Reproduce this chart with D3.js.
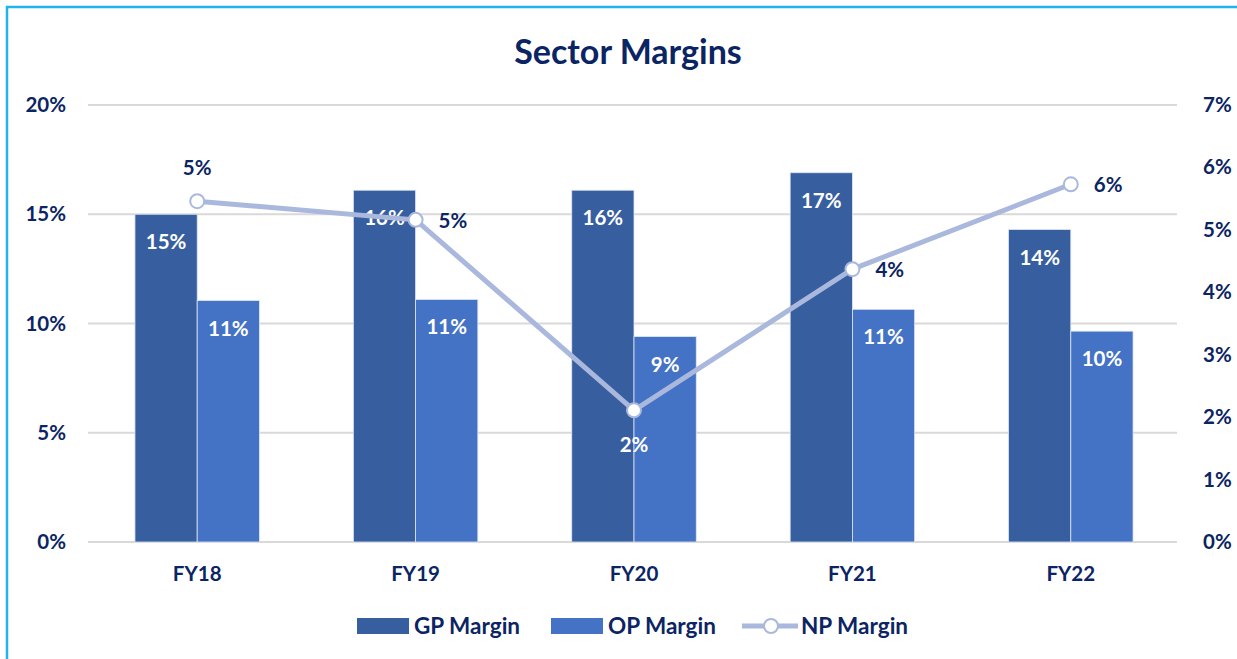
<!DOCTYPE html>
<html>
<head>
<meta charset="utf-8">
<script src="https://cdn.jsdelivr.net/npm/d3@7"></script>
<style>
  body { margin: 0; background: #fff; }
  svg { display: block; font-family: Lato, "Open Sans", sans-serif; }
</style>
</head>
<body>
<svg></svg>
<script>
// chart data
const years = ['FY18', 'FY19', 'FY20', 'FY21', 'FY22'];
const gpMargin = [15.0, 16.1, 16.1, 16.9, 14.3];
const opMargin = [11.05, 11.1, 9.4, 10.65, 9.65];
const npMargin = [5.46, 5.16, 2.11, 4.37, 5.73];
const leftTicks = [0, 5, 10, 15, 20];
const rightTicks = [0, 1, 2, 3, 4, 5, 6, 7];
// where the NP label sits relative to its point
const npLabelPos = ['top', 'right', 'bottom', 'right', 'right'];

const width = 1237,
      height = 659;

const navy = '#0b2463',
      gpColor = '#375fa0',
      opColor = '#4472c4',
      npColor = '#a9b8dc';

const svg = d3.select('svg')
              .attr('width', width)
              .attr('height', height);

// light blue frame, only top and left edges show
svg.append('rect')
   .attr('x', 7).attr('y', 7)
   .attr('width', width + 20).attr('height', height + 20)
   .attr('fill', 'none')
   .attr('stroke', '#22b3ef')
   .attr('stroke-width', 2.5);

svg.append('text')
   .attr('x', 628).attr('y', 64)
   .attr('text-anchor', 'middle')
   .attr('font-size', '34px')
   .attr('font-weight', 'bold')
   .attr('fill', navy)
   .text('Sector Margins');

const x = d3.scaleBand()
            .domain(years)
            .range([88, 1180])
            .paddingInner(0.43)
            .paddingOuter(0.215);

const xSub = d3.scaleBand()
               .domain(['gp', 'op'])
               .range([0, x.bandwidth()]);

const yLeft = d3.scaleLinear().domain([0, 20]).range([542, 105]);
const yRight = d3.scaleLinear().domain([0, 7]).range([542, 105]);

// gridlines
svg.append('g')
   .selectAll('line')
   .data(leftTicks)
   .join('line')
   .attr('x1', 88).attr('x2', 1177)
   .attr('y1', d => yLeft(d)).attr('y2', d => yLeft(d))
   .attr('stroke', '#d9d9d9')
   .attr('stroke-width', 2);

// left axis
const leftAxis = svg.append('g')
   .attr('transform', 'translate(88,0)')
   .call(d3.axisLeft(yLeft).tickValues(leftTicks).tickSize(0).tickPadding(22).tickFormat(d => d + '%'));
leftAxis.select('.domain').remove();

// right axis
const rightAxis = svg.append('g')
   .attr('transform', 'translate(1177,0)')
   .call(d3.axisRight(yRight).tickValues(rightTicks).tickSize(0).tickPadding(26).tickFormat(d => d + '%'));
rightAxis.select('.domain').remove();

// bottom axis
const bottomAxis = svg.append('g')
   .attr('transform', 'translate(0,542)')
   .call(d3.axisBottom(x).tickSize(0).tickPadding(24));
bottomAxis.select('.domain').remove();

svg.selectAll('.tick text')
   .attr('font-size', '20.5px')
   .attr('font-weight', 'bold')
   .attr('fill', navy)
   .attr('font-family', 'Lato, "Open Sans", sans-serif');

// bars
const bars = svg.append('g').attr('id', 'bars');
const series = [
  { key: 'gp', values: gpMargin, color: gpColor },
  { key: 'op', values: opMargin, color: opColor }
];

series.forEach(s => {
  bars.selectAll('.bar-' + s.key)
      .data(s.values)
      .join('rect')
      .attr('class', 'bar-' + s.key)
      .attr('x', (d, i) => x(years[i]) + xSub(s.key))
      .attr('y', d => yLeft(d))
      .attr('width', xSub.bandwidth())
      .attr('height', d => yLeft(0) - yLeft(d))
      .attr('fill', s.color)
      .attr('stroke', '#dde5f4')
      .attr('stroke-width', 0.8);

  bars.selectAll('.lbl-' + s.key)
      .data(s.values)
      .join('text')
      .attr('class', 'lbl-' + s.key)
      .attr('x', (d, i) => x(years[i]) + xSub(s.key) + xSub.bandwidth() / 2)
      .attr('y', d => yLeft(d) + 35)
      .attr('text-anchor', 'middle')
      .attr('font-size', '20.5px')
      .attr('font-weight', 'bold')
      .attr('fill', '#fff')
      .text(d => Math.round(d) + '%');
});

// NP line
const npX = (d, i) => x(years[i]) + x.bandwidth() / 2;
const line = d3.line()
               .x(npX)
               .y(d => yRight(d));

svg.append('path')
   .datum(npMargin)
   .attr('d', line)
   .attr('fill', 'none')
   .attr('stroke', npColor)
   .attr('stroke-width', 5)
   .attr('stroke-linejoin', 'round');

svg.append('g')
   .selectAll('circle')
   .data(npMargin)
   .join('circle')
   .attr('cx', npX)
   .attr('cy', d => yRight(d))
   .attr('r', 7)
   .attr('fill', '#fff')
   .attr('stroke', npColor)
   .attr('stroke-width', 2);

svg.append('g')
   .selectAll('text')
   .data(npMargin)
   .join('text')
   .attr('x', (d, i) => {
     const cx = npX(d, i);
     return npLabelPos[i] === 'right' ? cx + 23 : cx;
   })
   .attr('y', (d, i) => {
     const cy = yRight(d);
     if (npLabelPos[i] === 'top') return cy - 26;
     if (npLabelPos[i] === 'bottom') return cy + 42;
     return cy + 8;
   })
   .attr('text-anchor', (d, i) => npLabelPos[i] === 'right' ? 'start' : 'middle')
   .attr('font-size', '20.5px')
   .attr('font-weight', 'bold')
   .attr('fill', (d, i) => npLabelPos[i] === 'bottom' ? '#fff' : navy)
   .text(d => Math.round(d) + '%');

// legend
const legend = svg.append('g').attr('id', 'legend');
const legendItems = [
  { name: 'GP Margin', type: 'bar', color: gpColor, x: 357 },
  { name: 'OP Margin', type: 'bar', color: opColor, x: 551 },
  { name: 'NP Margin', type: 'line', color: npColor, x: 742 }
];

legendItems.forEach(item => {
  const g = legend.append('g').attr('transform', 'translate(' + item.x + ',626)');
  if (item.type === 'bar') {
    g.append('rect')
     .attr('x', 0).attr('y', -8)
     .attr('width', 52).attr('height', 16)
     .attr('fill', item.color);
  } else {
    g.append('line')
     .attr('x1', 0).attr('x2', 56)
     .attr('y1', 0).attr('y2', 0)
     .attr('stroke', item.color)
     .attr('stroke-width', 5);
    g.append('circle')
     .attr('cx', 29).attr('cy', 0).attr('r', 7)
     .attr('fill', '#fff')
     .attr('stroke', item.color)
     .attr('stroke-width', 2);
  }
  g.append('text')
   .attr('x', item.type === 'bar' ? 57 : 59)
   .attr('y', 8)
   .attr('font-size', '22.5px')
   .attr('font-weight', 'bold')
   .attr('fill', navy)
   .text(item.name);
});
</script>
</body>
</html>
